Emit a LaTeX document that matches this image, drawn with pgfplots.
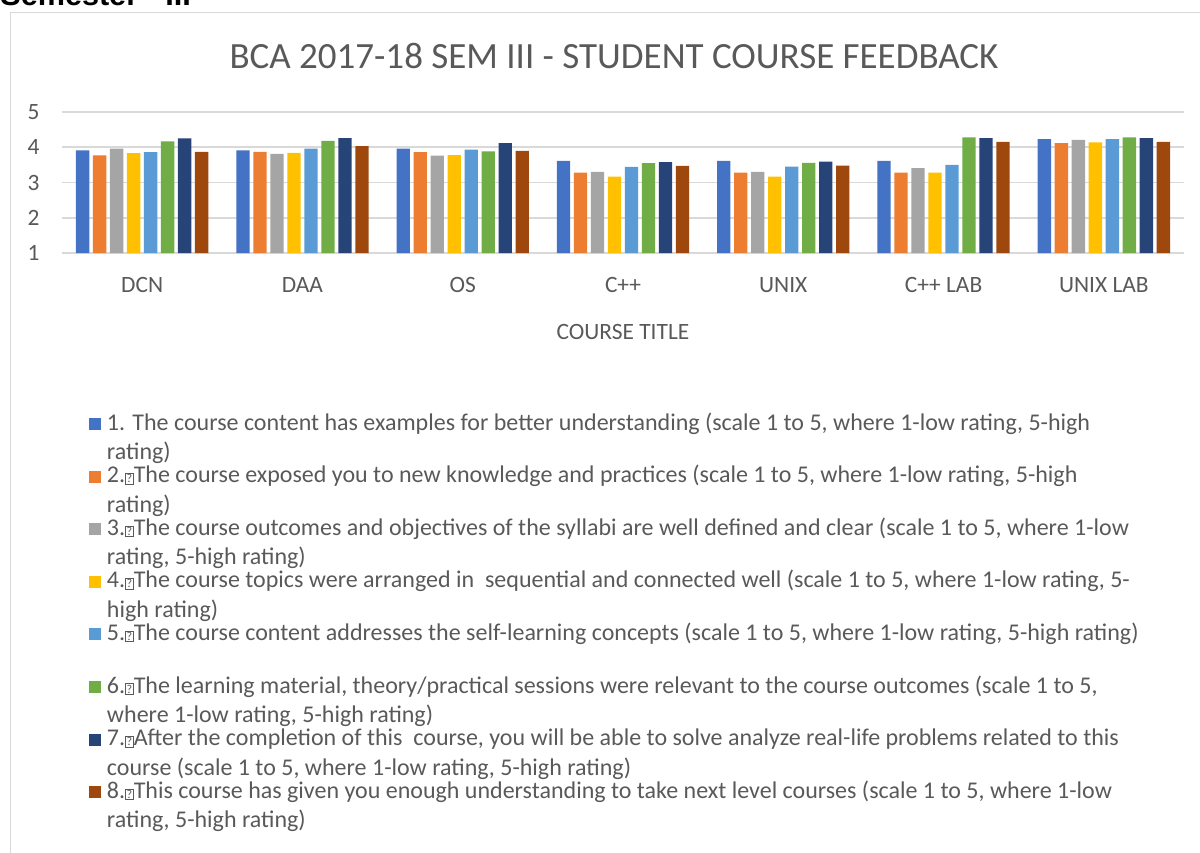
\documentclass[border=0pt]{standalone}
\usepackage{pgfplots}
\pgfplotsset{compat=1.18}
\usepackage{pgfplotstable}
\usepackage{fontspec}
\setmainfont{Carlito}
\newfontfamily\arialfont{Liberation Sans}
\definecolor{c1}{HTML}{4472C4}
\definecolor{c2}{HTML}{ED7D31}
\definecolor{c3}{HTML}{A5A5A5}
\definecolor{c4}{HTML}{FFC000}
\definecolor{c5}{HTML}{5B9BD5}
\definecolor{c6}{HTML}{70AD47}
\definecolor{c7}{HTML}{264478}
\definecolor{c8}{HTML}{9E480E}
\definecolor{txt}{HTML}{595959}
\definecolor{gridc}{HTML}{D9D9D9}
\newcommand\qb{{\setlength\fboxsep{0.4pt}\setlength\fboxrule{0.35pt}\fbox{\fontsize{6}{6}\selectfont ?}}}
\newcommand\lent[1]{\parbox[t][26.3pt][t]{560pt}{\strut #1}}
\pgfplotstableread{
x s1 s2 s3 s4 s5 s6 s7 s8
0 3.91 3.77 3.96 3.83 3.86 4.17 4.25 3.87
1 3.91 3.87 3.81 3.84 3.96 4.18 4.26 4.03
2 3.96 3.86 3.76 3.78 3.93 3.88 4.12 3.90
3 3.61 3.28 3.30 3.17 3.44 3.55 3.58 3.47
4 3.61 3.28 3.30 3.17 3.45 3.56 3.59 3.48
5 3.61 3.28 3.41 3.28 3.50 4.28 4.26 4.15
6 4.23 4.12 4.21 4.14 4.23 4.28 4.26 4.15
}\datatable
\begin{document}
\begin{tikzpicture}
\useasboundingbox (0pt,0pt) rectangle (600pt,426pt);
\draw[gridc, line width=0.5pt] (5pt,-5pt) -- (5pt,419.5pt) -- (605pt,419.5pt);
\node[anchor=base west, inner sep=0pt, text=black, font=\arialfont\bfseries\fontsize{15.3}{18}\selectfont] at (0pt,423pt) {Semester - III};
\begin{axis}[
  at={(31pt,299.5pt)}, anchor=south west,
  scale only axis, width=561pt, height=70.5pt,
  xmin=-0.5, xmax=6.5, ymin=1, ymax=5,
  ybar=1.85pt, bar width=6.65pt,
  xtick={0,...,6},
  xticklabels={DCN,DAA,OS,C++,UNIX,C++ LAB,UNIX LAB},
  ytick={1,2,3,4,5},
  major tick length=0pt,
  axis x line*=bottom, axis y line*=left,
  x axis line style={draw=gridc, line width=0.75pt, -},
  y axis line style={draw=none},
  ymajorgrids, grid style={draw=gridc, line width=0.75pt},
  /pgf/number format/assume math mode=true,
  tick label style={font=\fontsize{11.7}{14}\selectfont, text=txt, inner sep=0pt},
  yticklabel style={anchor=east, xshift=-11pt},
  xticklabel style={anchor=base, yshift=-19.7pt},
  xlabel={COURSE TITLE},
  xlabel style={at={(rel axis cs:0.5,0)}, anchor=base, yshift=-43pt, font=\fontsize{11.7}{14}\selectfont, text=txt, inner sep=0pt},
  title={BCA 2017-18 SEM III - STUDENT COURSE FEEDBACK},
  title style={at={(rel axis cs:0.5,1)}, anchor=base, yshift=15.5pt, xshift=-4.5pt, font=\fontsize{18.5}{22}\selectfont, text=txt, inner sep=0pt},
  legend style={at={(0.024064,-1.1092)}, anchor=north west, draw=none, fill=none,
    inner sep=0pt, outer sep=0pt, row sep=0pt, column sep=0pt,
    cells={anchor=base west},
    nodes={inner sep=0pt, outer sep=0pt, text depth=15.975pt, text=txt, font=\fontsize{12}{14.75}\selectfont},
    /tikz/every odd column/.append style={column sep=3pt}},
  mybar/.style={fill=#1, draw=none, legend image code/.code={\fill[##1] (0pt,0pt) rectangle (6pt,6pt);}},
]
\addplot[mybar=c1] table[x=x,y=s1]{\datatable};
\addlegendentry{\lent{1. The course content has examples for better understanding (scale 1 to 5, where 1-low rating, 5-high\newline rating)}}
\addplot[mybar=c2] table[x=x,y=s2]{\datatable};
\addlegendentry{\lent{2.\qb The course exposed you to new knowledge and practices (scale 1 to 5, where 1-low rating, 5-high\newline rating)}}
\addplot[mybar=c3] table[x=x,y=s3]{\datatable};
\addlegendentry{\lent{3.\qb The course outcomes and objectives of the syllabi are well defined and clear (scale 1 to 5, where 1-low\newline rating, 5-high rating)}}
\addplot[mybar=c4] table[x=x,y=s4]{\datatable};
\addlegendentry{\lent{4.\qb The course topics were arranged in\ \ sequential and connected well (scale 1 to 5, where 1-low rating, 5-\newline high rating)}}
\addplot[mybar=c5] table[x=x,y=s5]{\datatable};
\addlegendentry{\lent{5.\qb The course content addresses the self-learning concepts (scale 1 to 5, where 1-low rating, 5-high rating)}}
\addplot[mybar=c6] table[x=x,y=s6]{\datatable};
\addlegendentry{\lent{6.\qb The learning material, theory/practical sessions were relevant to the course outcomes (scale 1 to 5,\newline where 1-low rating, 5-high rating)}}
\addplot[mybar=c7] table[x=x,y=s7]{\datatable};
\addlegendentry{\lent{7.\qb After the completion of this\ \ course, you will be able to solve analyze real-life problems related to this\newline course (scale 1 to 5, where 1-low rating, 5-high rating)}}
\addplot[mybar=c8] table[x=x,y=s8]{\datatable};
\addlegendentry{\lent{8.\qb This course has given you enough understanding to take next level courses (scale 1 to 5, where 1-low\newline rating, 5-high rating)}}
\draw[gridc, line width=0.75pt] (rel axis cs:0,0) -- ++(0pt,-47pt);
\draw[gridc, line width=0.75pt] (rel axis cs:1,0) -- ++(0pt,-47pt);
\end{axis}
\end{tikzpicture}
\end{document}
